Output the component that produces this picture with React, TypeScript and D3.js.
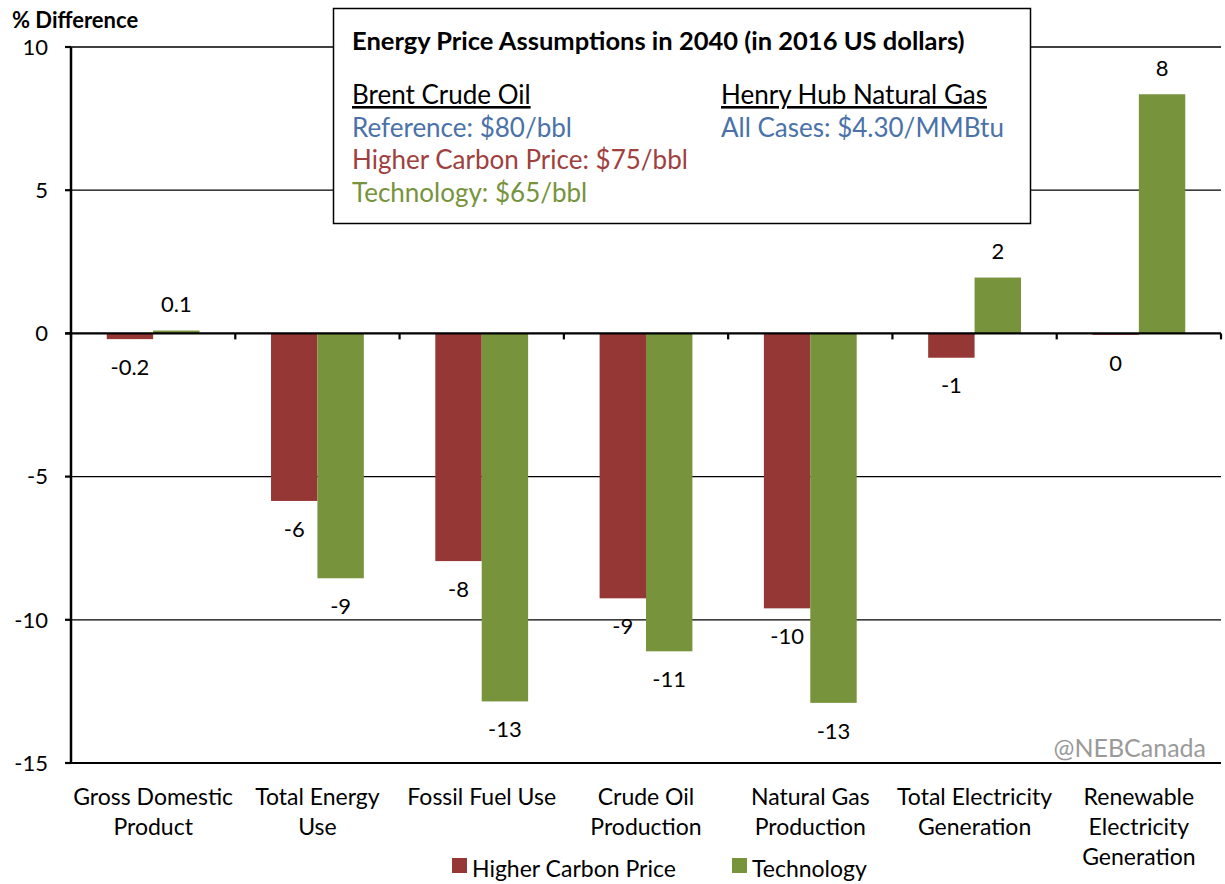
import React from "react";
import * as d3 from "d3";

const categories = [
  ["Gross Domestic", "Product"],
  ["Total Energy", "Use"],
  ["Fossil Fuel Use"],
  ["Crude Oil", "Production"],
  ["Natural Gas", "Production"],
  ["Total Electricity", "Generation"],
  ["Renewable", "Electricity", "Generation"],
];
const carbonValues = [-0.2, -5.85, -7.95, -9.25, -9.6, -0.85, -0.05];
const techValues = [0.1, -8.55, -12.85, -11.1, -12.9, 1.95, 8.35];
const carbonLabels = ["-0.2", "-6", "-8", "-9", "-10", "-1", "0"];
const techLabels = ["0.1", "-9", "-13", "-11", "-13", "2", "8"];
const yTicks = [10, 5, 0, -5, -10, -15];
const seriesNames = ["Higher Carbon Price", "Technology"];

const RED = "#953735";
const GREEN = "#77933C";
const BLUE = "#4A72A8";
const FONT = "Lato, 'Open Sans', sans-serif";

export default function App() {
  const W = 1225, H = 884;
  const left = 71, right = 1221, top = 47, bottom = 763;
  const y = d3.scaleLinear().domain([-15, 10]).range([bottom, top]);
  const x = d3.scaleBand<number>().domain(d3.range(categories.length)).range([left, right]).paddingInner(0).paddingOuter(0);
  const bw = x.bandwidth();
  const barW = 46.4;
  const y0 = y(0);

  const bars = [
    { vals: carbonValues, labels: carbonLabels, color: RED, off: -barW },
    { vals: techValues, labels: techLabels, color: GREEN, off: 0 },
  ];

  return (
    <svg width={W} height={H} style={{ position: "absolute", left: 0, top: 0, background: "#fff" }} fontFamily={FONT}>
      {yTicks.filter((t) => t !== 0 && t !== -15).map((t) => (
        <line key={t} x1={left} x2={right} y1={y(t)} y2={y(t)} stroke="#000" strokeWidth={1.3} />
      ))}
      {bars.map((s, si) =>
        s.vals.map((v, i) => {
          const cx = (x(i) as number) + bw / 2;
          const bx = cx + s.off;
          const yv = y(v);
          return (
            <rect key={si + "-" + i} x={bx} width={barW} y={Math.min(yv, y0)} height={Math.abs(yv - y0)} fill={s.color} />
          );
        })
      )}
      <line x1={left - 6} x2={right} y1={y(-15)} y2={y(-15)} stroke="#000" strokeWidth={2.2} />
      <line x1={left - 6} x2={right} y1={y0} y2={y0} stroke="#000" strokeWidth={2.2} />
      {d3.range(categories.length + 1).map((i) => {
        const tx = i < categories.length ? (x(i) as number) : right;
        return <line key={"t" + i} x1={tx} x2={tx} y1={y0} y2={y0 + 6} stroke="#000" strokeWidth={2.2} />;
      })}
      <line x1={left} x2={left} y1={top} y2={bottom} stroke="#000" strokeWidth={2.5} />
      {yTicks.map((t) => (
        <g key={"yt" + t}>
          <line x1={left - 6} x2={left} y1={y(t)} y2={y(t)} stroke="#000" strokeWidth={2.2} />
          <text x={48} y={y(t)} dy="0.35em" textAnchor="end" fontSize={22}>{t}</text>
        </g>
      ))}
      <text x={12} y={28} fontSize={22} fontWeight="bold">% Difference</text>
      {bars.map((s, si) =>
        s.vals.map((v, i) => {
          const cx = (x(i) as number) + bw / 2 + s.off + barW / 2;
          const yv = y(v);
          const ly = v >= 0 ? Math.min(yv, y0) - 26 : Math.max(yv, y0) + 28;
          return (
            <text key={"l" + si + i} x={cx} y={ly} dy="0.35em" textAnchor="middle" fontSize={22}>{s.labels[i]}</text>
          );
        })
      )}
      {categories.map((lines, i) => (
        <text key={"c" + i} x={(x(i) as number) + bw / 2} textAnchor="middle" fontSize={23}>
          {lines.map((ln, j) => (
            <tspan key={j} x={(x(i) as number) + bw / 2} y={805 + j * 30}>{ln}</tspan>
          ))}
        </text>
      ))}
      <text x={1206} y={757} textAnchor="end" fontSize={25} fill="#9a9a9a">@NEBCanada</text>
      <rect x={452} y={858} width={15} height={15} fill={RED} />
      <text x={472} y={877} fontSize={23}>{seriesNames[0]}</text>
      <rect x={732} y={858} width={15} height={15} fill={GREEN} />
      <text x={752} y={877} fontSize={23}>{seriesNames[1]}</text>
      <rect x={333.5} y={8.5} width={697} height={215} fill="#fff" stroke="#000" strokeWidth={1.5} />
      <text x={352} y={50} fontSize={25.5} fontWeight="bold">Energy Price Assumptions in 2040 (in 2016 US dollars)</text>
      <text x={352} y={104} fontSize={26} textDecoration="underline">Brent Crude Oil </text>
      <text x={352} y={137} fontSize={26} fill={BLUE}>Reference: $80/bbl</text>
      <text x={352} y={169} fontSize={26} fill={"#A0403E"}>Higher Carbon Price: $75/bbl</text>
      <text x={352} y={202} fontSize={26} fill={GREEN}>Technology: $65/bbl</text>
      <text x={721} y={104} fontSize={26} textDecoration="underline">Henry Hub Natural Gas</text>
      <text x={721} y={137} fontSize={26} fill={BLUE}>All Cases: $4.30/MMBtu</text>
    </svg>
  );
}
